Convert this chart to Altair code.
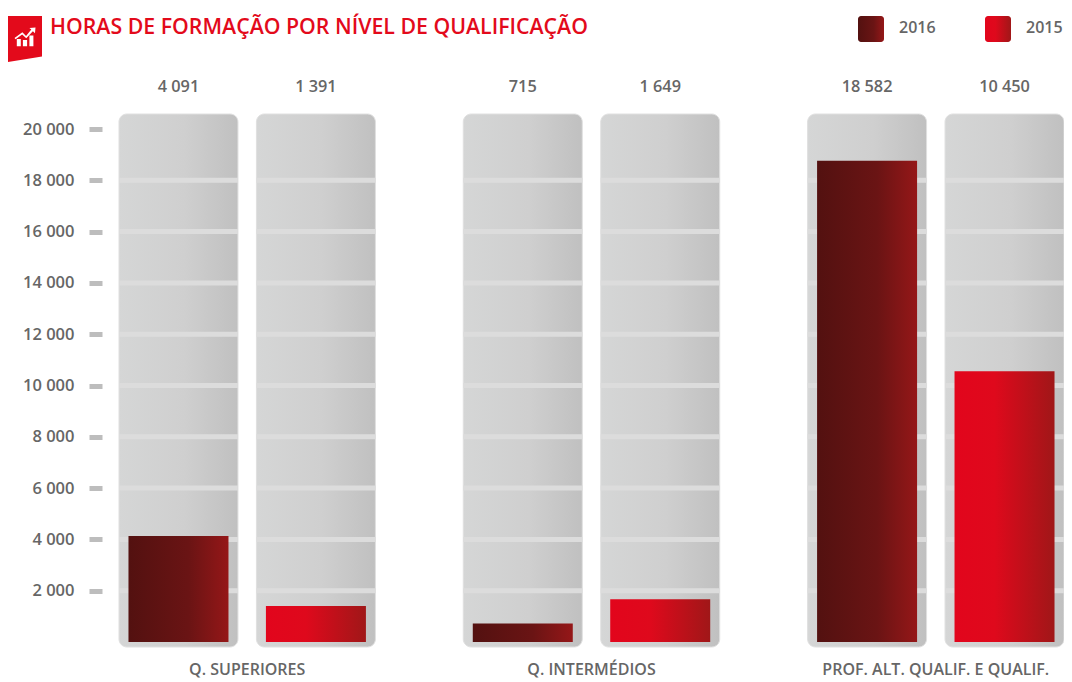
import altair as alt
import pandas as pd

groups = ["Q. SUPERIORES", "Q. INTERMÉDIOS", "PROF. ALT. QUALIF. E QUALIF."]
years = ["2016", "2015"]
hours_2016 = [4091, 715, 18582]
hours_2015 = [1391, 1649, 10450]
ticks = [2000, 4000, 6000, 8000, 10000, 12000, 14000, 16000, 18000, 20000]
stripe_ticks = [2000, 4000, 6000, 8000, 10000, 12000, 14000, 16000, 18000]
title_text = "HORAS DE FORMAÇÃO POR NÍVEL DE QUALIFICAÇÃO"

FONT = "Open Sans"
TEXT = "#666666"
RED = "#e30a1b"
LEFT, TOP = 119, 114

rows = []
for g, a, b in zip(groups, hours_2016, hours_2015):
    rows.append({"group": g, "year": "2016", "hours": a, "label": f"{a:,}".replace(",", " ")})
    rows.append({"group": g, "year": "2015", "hours": b, "label": f"{b:,}".replace(",", " ")})
df = pd.DataFrame(rows)
stripes = df[["group", "year"]].merge(pd.DataFrame({"tick": stripe_ticks}), how="cross")


def grad(*stops):
    return alt.Gradient(
        gradient="linear", x1=0, x2=1, y1=0, y2=0,
        stops=[alt.GradientStop(offset=o, color=c) for o, c in stops],
    )


grad_2016 = grad((0, "#531110"), (0.6, "#6a1414"), (1, "#951718"))
grad_2015 = grad((0, "#e2051c"), (0.4, "#df091c"), (1, "#a01718"))
grad_panel = grad((0, "#d5d6d6"), (0.55, "#cfcfcf"), (1, "#c0c0c0"))

W, H = 945, 533
grid_scale = alt.Scale(domain=[-195, 20585], range=[H, 0], nice=False, zero=False)
bar_scale = alt.Scale(domain=[-193, 20386], range=[H, 0], nice=False, zero=False)

x = alt.X(
    "group:N", sort=groups, title=None,
    scale=alt.Scale(paddingInner=0.2553, paddingOuter=0),
    axis=alt.Axis(
        domain=False, ticks=False, labelAngle=0, labelFont=FONT, labelFontSize=16,
        labelFontWeight=600, labelColor=TEXT, labelPadding=14, labelLimit=300,
    ),
)
xo = alt.XOffset("year:N", sort=years, scale=alt.Scale(paddingInner=0.1345, paddingOuter=0))

panel = alt.Chart(df).mark_bar(
    width=119, cornerRadius=8, color=grad_panel, stroke="#e0e0e0", strokeWidth=1
).encode(
    x=x, xOffset=xo,
    y=alt.Y(
        datum=20585, scale=grid_scale, title=None,
        axis=alt.Axis(
            values=ticks, domain=False, grid=False, tickSize=13, tickWidth=5, tickColor="#bdbdbd",
            offset=17,
            labelFont=FONT, labelFontSize=16.5, labelFontWeight=600, labelColor=TEXT, labelPadding=15,
            labelExpr="replace(format(datum.value, ','), ',', ' ')",
        ),
    ),
    y2=alt.Y2(datum=-195),
)

stripe = alt.Chart(stripes).mark_tick(orient="horizontal", size=119, thickness=5, color="#dcdcdc", opacity=1).encode(
    x=x, xOffset=xo, y=alt.Y("tick:Q", scale=grid_scale, axis=None)
)


def bars(year, fill):
    return alt.Chart(df[df.year == year]).mark_bar(width=100, color=fill).encode(
        x=x, xOffset=xo,
        y=alt.Y("hours:Q", scale=bar_scale, axis=None, stack=None),
        y2=alt.Y2(datum=0),
    )


values = alt.Chart(df).mark_text(font=FONT, fontSize=16.3, fontWeight=600, color=TEXT, baseline="middle").encode(
    x=x, xOffset=xo, y=alt.value(87 - TOP), text="label:N"
)


def swatch(year, fill, left):
    one = pd.DataFrame({"year": [year]})
    rect = alt.Chart(one).mark_rect(cornerRadius=3, color=fill).encode(
        x=alt.value(left - LEFT), x2=alt.value(left + 26 - LEFT), y=alt.value(16 - TOP), y2=alt.value(42 - TOP)
    )
    txt = alt.Chart(one).mark_text(
        font=FONT, fontSize=16, fontWeight=600, color=TEXT, align="left", baseline="middle"
    ).encode(x=alt.value(left + 41 - LEFT), y=alt.value(28 - TOP), text="year:N")
    return rect + txt


FLAG = "M-0.739,-1 L0.739,-1 L0.739,0.76 L-0.739,1 Z"
ICON = ("M-0.78,0.78 L-0.78,0.1 L-0.4,0.1 L-0.4,0.78 Z M-0.2,0.78 L-0.2,0.2 L0.2,0.2 L0.2,0.78 Z "
        "M0.42,0.78 L0.42,-0.25 L0.8,-0.25 L0.8,0.78 Z "
        "M-1,0 L-0.25,-0.55 L0.1,-0.2 L0.6,-0.8 L0.42,-0.95 L1,-1 L0.95,-0.45 L0.75,-0.65 L0.12,0.02 L-0.27,-0.33 L-0.9,0.12 Z")
one_row = pd.DataFrame({"text": [title_text]})
flag = alt.Chart(one_row).mark_point(shape=FLAG, filled=True, fill=RED, opacity=1, size=2116, strokeWidth=0).encode(
    x=alt.value(25 - LEFT), y=alt.value(39 - TOP)
)
icon = alt.Chart(one_row).mark_point(shape=ICON, filled=True, fill="white", opacity=1, size=441, strokeWidth=0).encode(
    x=alt.value(25 - LEFT), y=alt.value(38 - TOP)
)
title = alt.Chart(one_row).mark_text(
    font=FONT, fontSize=21.3, fontWeight=600, color=RED, align="left", baseline="middle"
).encode(x=alt.value(50 - LEFT), y=alt.value(28 - TOP), text="text:N")

chart = alt.layer(
    panel, stripe, bars("2016", grad_2016), bars("2015", grad_2015), values,
    swatch("2016", grad_2016, 858), swatch("2015", grad_2015, 985), flag, icon, title,
).resolve_scale(y="independent").properties(
    width=W, height=H,
    padding={"left": LEFT - 8, "top": TOP - 8, "right": 0, "bottom": 32},
    autosize=alt.AutoSizeParams(type="none"),
).configure_view(stroke=None)

chart.save("out.html", embed_options={"renderer": "svg", "actions": False})
